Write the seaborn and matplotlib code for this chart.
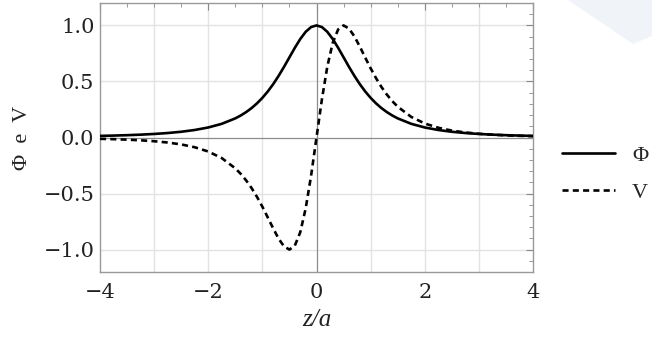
import numpy as np
import pandas as pd
import matplotlib
matplotlib.use("Agg")
import matplotlib.pyplot as plt
import seaborn as sns
from matplotlib.patches import Polygon
from matplotlib.lines import Line2D
from matplotlib.ticker import MultipleLocator

# values (z >= 0; Phi is even, V is odd)
z_pos = [0.0, 0.1, 0.2, 0.3, 0.4, 0.5, 0.6, 0.7, 0.8, 0.9, 1.0, 1.1, 1.2, 1.3,
         1.4, 1.5, 1.75, 2.0, 2.25, 2.5, 2.75, 3.0, 3.25, 3.5, 3.75, 4.0]
phi_pos = [1.0, 0.9852, 0.9429, 0.8787, 0.8004, 0.7155, 0.6305, 0.5498, 0.4761,
           0.4107, 0.3536, 0.3044, 0.2624, 0.2267, 0.1964, 0.1707, 0.1221, 0.0894,
           0.0670, 0.0512, 0.0399, 0.0316, 0.0254, 0.0207, 0.0171, 0.0143]
v_pos = [0.0, 0.3408, 0.6335, 0.8450, 0.9643, 1.0, 0.9719, 0.9025, 0.8115,
         0.7134, 0.6176, 0.5293, 0.4508, 0.3827, 0.3245, 0.2752, 0.1838, 0.1250,
         0.0869, 0.0617, 0.0448, 0.0332, 0.0250, 0.0191, 0.0149, 0.0117]

z_vals = [-z for z in z_pos[:0:-1]] + z_pos
phi_vals = phi_pos[:0:-1] + phi_pos
v_vals = [-v for v in v_pos[:0:-1]] + v_pos

xticks = [-4, -2, 0, 2, 4]
xticklabels = ["−4", "−2", "0", "2", "4"]
yticks = [-1.0, -0.5, 0.0, 0.5, 1.0]
yticklabels = ["−1.0", "−0.5", "0.0", "0.5", "1.0"]
series_names = ["Φ", "V"]

df = pd.DataFrame({"z": z_vals + z_vals,
                   "val": phi_vals + v_vals,
                   "series": [series_names[0]] * len(z_vals) + [series_names[1]] * len(z_vals)})

sns.set_style("white")
plt.rcParams['font.family'] = ['DejaVu Serif']

fig = plt.figure(figsize=(6.52, 3.55), dpi=100)

# faint watermark shape top right
wm = Polygon([(568 / 652, 1.0), (1.0, 1.0), (1.0, 1 - 36 / 355), (633 / 652, 1 - 44 / 355)],
             closed=True, transform=fig.transFigure,
             facecolor="#f0f4f9", edgecolor="none", zorder=0)
fig.patches.append(wm)

ax = fig.add_axes([100 / 652, 1 - 272 / 355, 433 / 652, 269 / 355])
ax.set_facecolor("white")

# grid at every integer in x, every 0.5 in y
for xv in [-3, -2, -1, 1, 2, 3]:
    ax.axvline(xv, color="#e2e2e2", lw=1.0, zorder=0)
for yv in [-1.0, -0.5, 0.5, 1.0]:
    ax.axhline(yv, color="#e2e2e2", lw=1.0, zorder=0)
ax.axhline(0, color="#8c8c8c", lw=0.9, zorder=1)
ax.axvline(0, color="#8c8c8c", lw=0.9, zorder=1)

dash_pat = (2.3, 1.6)
palette = {series_names[0]: "black", series_names[1]: "black"}
sns.lineplot(data=df, x="z", y="val", hue="series", style="series",
             palette=palette, dashes={series_names[0]: "", series_names[1]: dash_pat},
             ax=ax, lw=1.9, legend=False, zorder=3)

ax.set_xlim(-4, 4)
ax.set_ylim(-1.2, 1.2)
ax.set_xticks(xticks)
ax.set_xticklabels(xticklabels)
ax.set_yticks(yticks)
ax.set_yticklabels(yticklabels)
ax.xaxis.set_minor_locator(MultipleLocator(0.5))
ax.yaxis.set_minor_locator(MultipleLocator(0.1))

ax.tick_params(axis="both", which="major", direction="in", length=5, width=0.8,
               color="#888888", labelsize=15, top=True, right=True,
               labelcolor="#222222")
ax.tick_params(axis="x", which="major", pad=8)
ax.tick_params(axis="y", which="major", pad=4)
ax.tick_params(axis="both", which="minor", direction="in", length=3, width=0.6,
               color="#888888", top=True, right=True)
for s in ax.spines.values():
    s.set_color("#999999")
    s.set_linewidth(1.0)

ax.set_xlabel("z/a", fontsize=18, labelpad=5, color="#222222",
              family="Liberation Serif", style="italic")
ax.set_ylabel("Φ  e  V", fontsize=16, labelpad=8, color="#222222",
              family="Liberation Serif")

handles = [Line2D([], [], color="black", lw=1.9),
           Line2D([], [], color="black", lw=1.9, dashes=list(dash_pat))]
fig.legend(handles, series_names, loc="center left",
           bbox_to_anchor=(562 / 652, 1 - 174 / 355), frameon=False,
           prop={"family": "Liberation Serif", "size": 16},
           handlelength=2.4, handletextpad=0.75, labelspacing=0.75,
           borderpad=0, borderaxespad=0)

fig.savefig("out.png", dpi=100)
